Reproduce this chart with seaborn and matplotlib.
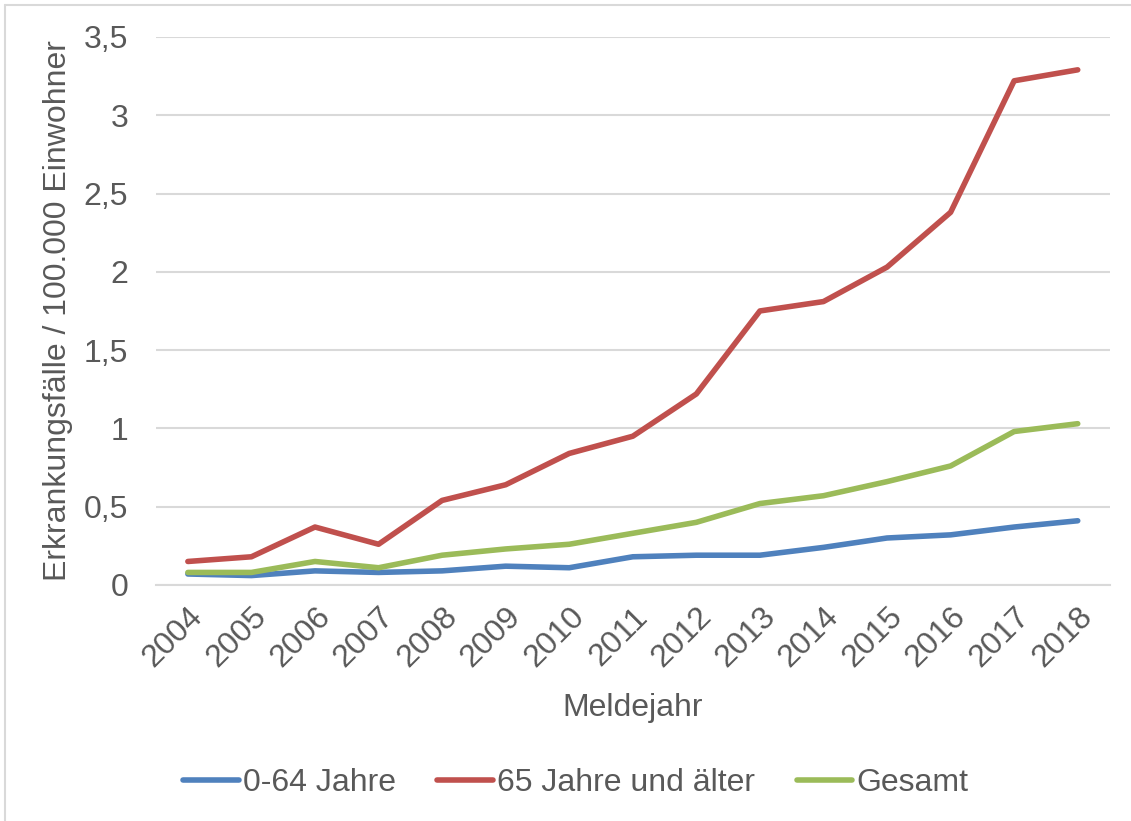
import matplotlib
matplotlib.use("Agg")
import matplotlib.pyplot as plt
import matplotlib.lines as mlines
import seaborn as sns
import pandas as pd

years = [str(y) for y in range(2004, 2019)]
jung = [0.07, 0.06, 0.09, 0.08, 0.09, 0.12, 0.11, 0.18, 0.19, 0.19, 0.24, 0.30, 0.32, 0.37, 0.41]
alt = [0.15, 0.18, 0.37, 0.26, 0.54, 0.64, 0.84, 0.95, 1.22, 1.75, 1.81, 2.03, 2.38, 3.22, 3.29]
gesamt = [0.08, 0.08, 0.15, 0.11, 0.19, 0.23, 0.26, 0.33, 0.40, 0.52, 0.57, 0.66, 0.76, 0.98, 1.03]
series_names = ["0-64 Jahre", "65 Jahre und älter", "Gesamt"]
y_ticks = [0, 0.5, 1, 1.5, 2, 2.5, 3, 3.5]
y_tick_labels = ["0", "0,5", "1", "1,5", "2", "2,5", "3", "3,5"]

df = pd.DataFrame({
    "Meldejahr": years * 3,
    "Wert": jung + alt + gesamt,
    "Gruppe": [series_names[0]] * 15 + [series_names[1]] * 15 + [series_names[2]] * 15,
})

sns.set_theme(style="white")
plt.rcParams["font.family"] = ["Liberation Sans", "DejaVu Sans"]
text_color = "#595959"
fs = 23

fig = plt.figure(figsize=(11.31, 8.21), dpi=100)
ax = fig.add_axes([0.138, 0.2875, 0.843, 0.6675])

palette = {series_names[0]: "#4F81BD", series_names[1]: "#C0504D", series_names[2]: "#9BBB59"}
sns.lineplot(data=df, x="Meldejahr", y="Wert", hue="Gruppe", palette=palette,
             linewidth=4.0, ax=ax, legend=False, solid_capstyle="round", zorder=3)

ax.set_xlim(-0.5, len(years) - 0.5)
ax.set_ylim(0, 3.5)
ax.set_yticks(y_ticks)
ax.set_yticklabels(y_tick_labels)
ax.yaxis.grid(True, color="#D9D9D9", linewidth=1.5, zorder=0)
ax.xaxis.grid(False)
for s in ["top", "right", "left"]:
    ax.spines[s].set_visible(False)
ax.spines["bottom"].set_color("#D9D9D9")
ax.spines["bottom"].set_linewidth(1.5)

ax.set_xticks(range(len(years)))
ax.set_xticklabels(years, rotation=45, ha="right", rotation_mode="anchor")
ax.tick_params(axis="both", labelsize=fs, colors=text_color, length=0)
ax.tick_params(axis="y", pad=20)
ax.tick_params(axis="x", pad=12)

ax.set_xlabel("Meldejahr", fontsize=fs, color=text_color, labelpad=14)
ax.set_ylabel("Erkrankungsfälle / 100.000 Einwohner", fontsize=fs, color=text_color, labelpad=8)

handles = [mlines.Line2D([0], [0], color=palette[n], linewidth=4.0, solid_capstyle="round")
           for n in series_names]
fig.legend(handles, series_names, loc="center", bbox_to_anchor=(0.509, 0.046), ncol=3,
           frameon=False, fontsize=fs, labelcolor=text_color, handlelength=1.75,
           handletextpad=0.12, columnspacing=1.3)

# chart frame (top and left edges)
frame_kw = dict(transform=fig.transFigure, color="#D9D9D9", linewidth=1.5)
fig.add_artist(mlines.Line2D([0.0045, 1.0], [0.994, 0.994], **frame_kw))
fig.add_artist(mlines.Line2D([0.0045, 0.0045], [0.0, 0.994], **frame_kw))

fig.savefig("out.png", dpi=100, facecolor="white")
